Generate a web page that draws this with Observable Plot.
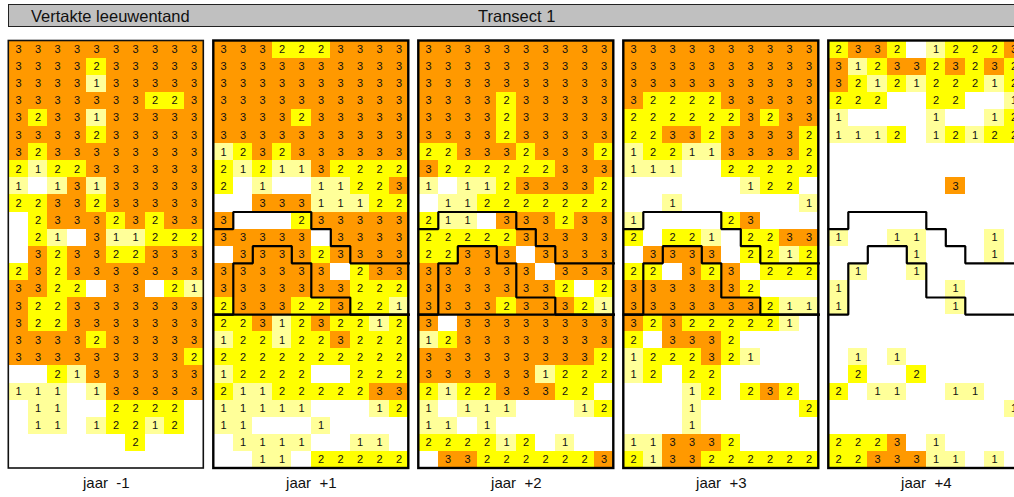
<!DOCTYPE html>
<html><head><meta charset="utf-8">
<script src="https://cdn.jsdelivr.net/npm/d3@7"></script>
<script src="https://cdn.jsdelivr.net/npm/@observablehq/plot@0.6"></script>
<style>
html,body{margin:0;padding:0;overflow:hidden;background:#fff;width:1014px;height:497px;}
#wrap{position:relative;width:1014px;height:497px;}
#hdr{position:absolute;left:8px;top:4px;width:1030px;height:21px;background:#c0c0c0;border:1px solid #222;font-family:"Liberation Sans",Arial,sans-serif;font-size:16.5px;color:#111;}
#hdr span{position:absolute;top:1.5px;line-height:19px;white-space:pre;}
</style></head><body>
<div id="wrap"><div id="chart"></div><div id="hdr"><span id="t1" style="left:22px"></span><span id="t2" style="left:469px"></span></div></div>
<script>
const species = "Vertakte leeuwentand";
const transect = "Transect 1";
const panelLabels = ["jaar  -1", "jaar  +1", "jaar  +2", "jaar  +3", "jaar  +4"];

// cell values per panel, one string per row (10 columns), "." = empty
const jaarMin1 = [
  "3333333333","3333233333","3333133333","3333333223","3233133333",
  "3333233333","3233333333","2122333333","1.13133333","2233233333",
  ".233323233",".21.311222",".323322333","2323333333","3322.33.21",
  "3223333333","3223333333","3333233333","3333333332","..21333333",
  "111.133333",".11..2222.",".11.12212.","......2...",".........."
];
const jaarPlus1 = [
  "3332223333","3333333333","3333333333","3333333333","3333233333",
  "3333333333","1232333333","2121132222","2.1..11223","..33311122",
  "3...233333","33333.3333",".333323333","333333.233","3333333222",
  "2333223221","2231232212","1221223222","2222222222","12222..222",
  "2112222233","11111...12","11...1....",".1111..11.","..11.22222"
];
const jaarPlus2 = [
  "3333333333","3333333333","3333333333","3333233333","3333233333",
  "3333233333","2233323332","3222222333","1.11233332",".112222222",
  "211.333233","2222233333","22333.3333","333333.333","33333332.2",
  "3333233321","3.33333333","1233333333","3333333332","3333331222",
  "212233322.","1.111...12","11.1......","222212.1..",".332222223"
];
const jaarPlus3 = [
  "3333333333","3333333333","3333333333","3222233333","2222223233",
  "2233233332","1221133332","111..22222","......122.","..1......1",
  "1....23...","2.221.2233",".3333.2212","22.323.222","3333332...",
  "3333333211","323222221.","2.3332....","1222321...","12.22.....",
  "...12.232.","...1.....2","...1......","113332....","2133222222"
];
const jaarPlus4 = [
  "2332.12223","3123323232","3212122212","222..22..1","1....1..12",
  "1112.12122","..........","..........","......3...","..........",
  "..........","1..11...1.","....1...1.",".1..1.....","1.....1...",
  "1.....1...","..........","..........",".1.1......",".2..2.....",
  "2.11..11..",".........1","..........","2223.1....","2233311.1."
];

const valueKeys = ["1", "2", "3"];
const valueColors = ["#ffff99", "#ffff00", "#ff9900"];

// zone boundaries in grid units [column boundary, row boundary]
const lineA = [[0,11],[1,11],[1,10],[5,10],[5,11],[6,11],[6,12],[7,12],[7,13],[10,13]];
const lineB = [[0,16],[1,16],[1,13],[2,13],[2,12],[4,12],[4,13],[5,13],[5,15],[7,15],[7,16],[10,16]];
const lineC = [[0,16],[10,16]];
const linesPerPanel = [[], ["A","B","C"], ["A","B","C"], ["A","B","C"], ["A","B"]];

document.getElementById("t1").textContent = species;
document.getElementById("t2").textContent = transect;

const panels = [jaarMin1, jaarPlus1, jaarPlus2, jaarPlus3, jaarPlus4];
const nCols = 10, nRows = 25;
const pitch = 205 / 19.5;          // panel pitch in column units (panel + gap)
const off = p => p * pitch;

const cells = [];
panels.forEach((rows, p) => rows.forEach((row, r) => [...row].forEach((ch, c) => {
  if (ch !== ".") cells.push({p, r, c, v: ch});
})));

const lineDefs = {A: lineA, B: lineB, C: lineC};
const segs = [];
linesPerPanel.forEach((ids, p) => ids.forEach(id => lineDefs[id].forEach(([x, y]) => segs.push({id: p + id, x: off(p) + x, y}))));

const frames = panels.map((_, p) => ({p, x1: off(p), x2: off(p) + nCols}));

const chart = Plot.plot({
  width: 1014,
  height: 497,
  marginLeft: 8.3, marginRight: 0, marginTop: 40.5, marginBottom: 29,
  style: {fontFamily: "'Liberation Sans', Arial, sans-serif", background: "white"},
  x: {domain: [0, (1014 - 8.3) / 19.5], range: [8.3, 1014], axis: null},
  y: {domain: [0, nRows], range: [40.5, 468], axis: null},
  color: {type: "ordinal", domain: valueKeys, range: valueColors},
  marks: [
    Plot.rect(cells, {x1: d => off(d.p) + d.c, x2: d => off(d.p) + d.c + 1, y1: d => d.r, y2: d => d.r + 1, fill: "v", shapeRendering: "crispEdges"}),
    Plot.text(cells, {x: d => off(d.p) + d.c + 0.5, y: d => d.r + 0.5, text: "v", fontSize: 11, fill: "#111"}),
    Plot.line(segs, {x: "x", y: "y", z: "id", stroke: "black", strokeWidth: 2.2, strokeLinejoin: "miter", strokeLinecap: "square"}),
    Plot.rect(frames.filter(d => d.p === 0), {x1: "x1", x2: "x2", y1: () => 0, y2: () => nRows, fill: "none", stroke: "#111", strokeWidth: 1.6}),
    Plot.rect(frames.filter(d => d.p > 0), {x1: "x1", x2: "x2", y1: () => 0, y2: () => nRows, fill: "none", stroke: "black", strokeWidth: 2.4}),
    Plot.text(panelLabels, {x: (d, i) => off(i) + nCols / 2, y: () => nRows, dy: 15, text: d => d, fontSize: 15, fill: "#111"})
  ]
});
document.getElementById("chart").appendChild(chart);
</script>
</body></html>
